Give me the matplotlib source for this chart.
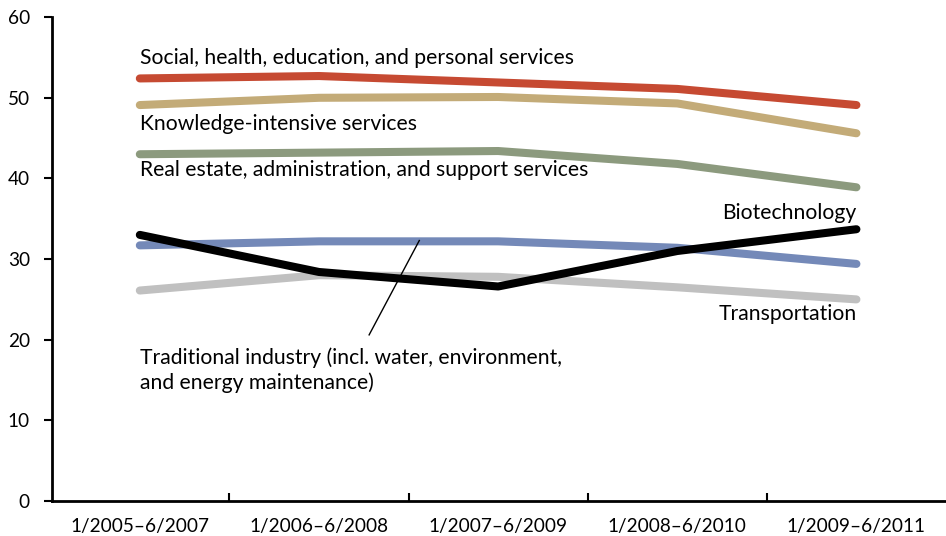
import matplotlib
matplotlib.use("Agg")
import matplotlib.pyplot as plt

plt.rcParams['font.family'] = ['Lato', 'DejaVu Sans']

periods = ['1/2005–6/2007', '1/2006–6/2008', '1/2007–6/2009', '1/2008–6/2010', '1/2009–6/2011']

social = [52.4, 52.7, 51.9, 51.1, 49.1]
knowledge = [49.1, 50.0, 50.1, 49.3, 45.6]
real_estate = [43.0, 43.2, 43.4, 41.8, 38.9]
traditional = [31.7, 32.2, 32.2, 31.4, 29.4]
transport = [26.1, 28.0, 27.8, 26.5, 25.0]
biotech = [33.0, 28.4, 26.6, 31.0, 33.7]

fig = plt.figure(figsize=(9.46, 5.36), dpi=100)
ax = fig.add_axes([0.055, 0.0653, 0.945, 0.9027])

x = range(len(periods))
lw = 5.8
ax.plot(x, transport, color='#c0c0c0', lw=lw, solid_capstyle='round')
ax.plot(x, traditional, color='#7489b8', lw=lw, solid_capstyle='round')
ax.plot(x, real_estate, color='#8c9a7e', lw=lw, solid_capstyle='round')
ax.plot(x, knowledge, color='#c3ab78', lw=lw, solid_capstyle='round')
ax.plot(x, social, color='#c64a32', lw=lw, solid_capstyle='round')
ax.plot(x, biotech, color='#000000', lw=lw, solid_capstyle='round')

fs = 15.2
ax.text(0, 54.9, 'Social, health, education, and personal services', fontsize=fs, va='center')
ax.text(0, 46.8, 'Knowledge-intensive services', fontsize=fs, va='center')
ax.text(0, 41.0, 'Real estate, administration, and support services', fontsize=fs, va='center')
ax.text(4, 35.7, 'Biotechnology', fontsize=fs, va='center', ha='right')
ax.text(4, 23.2, 'Transportation', fontsize=fs, va='center', ha='right')
ax.text(0, 16.2, 'Traditional industry (incl. water, environment,\nand energy maintenance)',
        fontsize=fs, va='center', linespacing=1.3)
ax.plot([1.56, 1.28], [32.3, 20.6], color='black', lw=1)

ax.set_xlim(-0.49, 4.5)
ax.set_ylim(0, 60)
ax.set_yticks(range(0, 61, 10))
ax.set_xticks(list(x))
ax.set_xticklabels(periods, fontsize=13.7)
ax.set_xticks([0.5, 1.5, 2.5, 3.5], minor=True)
ax.tick_params(axis='x', which='major', length=0, pad=12)
ax.tick_params(axis='x', which='minor', direction='in', length=6, width=1.5)
ax.tick_params(axis='y', labelsize=13.7, length=6, width=1.5, pad=10)
for s in ['top', 'right']:
    ax.spines[s].set_visible(False)
for s in ['left', 'bottom']:
    ax.spines[s].set_linewidth(2)

fig.savefig('out.png', dpi=100)
